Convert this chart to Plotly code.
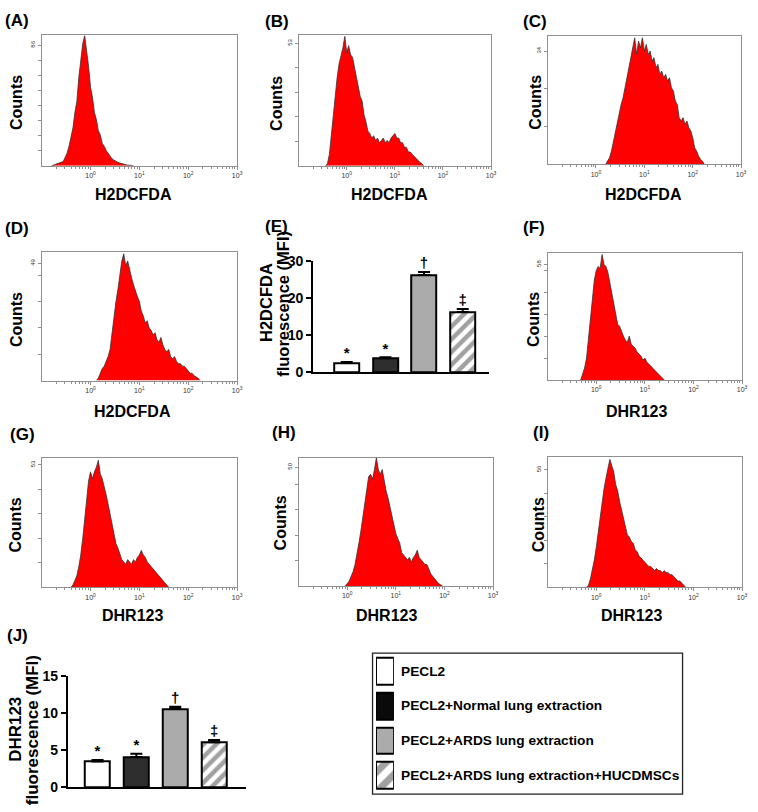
import plotly.graph_objects as go

W, H = 758, 812
FONT = "Arial, 'Liberation Sans', Helvetica, sans-serif"

# ---------------- DATA ----------------
LOG_STEP = 0.04  # channel width in log10 units

A_start = -0.80
A_counts = [0, 0.5, 1, 1, 2, 2, 3, 6, 9, 14, 20, 27, 38, 46, 63, 74, 87, 93, 83, 71, 56, 49, 38, 33, 25, 22,
            16, 14, 11, 9, 7, 5, 4, 3, 2.5, 2, 1.5, 1, 1, 0.5, 0.5, 0, 0]
B_start = -0.44
B_counts = [0, 1, 5, 14, 22, 31, 38, 44, 47, 51, 56, 49, 52, 48, 47, 43, 38, 35, 30, 28, 22, 19, 15, 14, 12, 13,
            11, 12, 10, 11, 12, 10, 11, 10, 12, 13, 14, 12, 12, 10, 10, 8, 8, 6, 6, 5, 4, 3, 2, 1.5, 1, 0]
C_start = 0.20
C_counts = [0, 1, 2, 4, 7, 10, 13, 16, 18, 20, 23, 25, 28, 31, 35, 38, 33, 37, 35, 38, 34, 36, 33, 34, 31, 32,
            29, 30, 27, 28, 26, 27, 25, 26, 23, 22, 19, 18, 14, 13, 14, 12, 13, 11, 10, 8, 5, 4, 2.5, 1.5, 1, 0]
D_start = 0.12
D_counts = [0, 1, 3, 5, 6, 8, 10, 13, 20, 28, 33, 38, 44, 50, 53, 48, 50, 46, 43, 40, 37, 35, 33, 29, 27, 24,
            25, 22, 21, 19, 20, 17, 16, 18, 15, 13, 12, 13, 10, 9, 10, 8, 7, 7, 6, 6, 5, 4, 3, 3, 2, 1.5, 1, 0]
F_start = -0.32
F_counts = [0, 3, 6, 11, 21, 32, 42, 50, 55, 57, 56, 63, 58, 57, 54, 49, 43, 37, 32, 28, 27, 24, 22, 20, 19, 22,
            18, 17, 16, 14, 13, 12, 10, 11, 9, 8, 7, 6, 5, 4, 3, 2, 1, 0]
G_start = -0.40
G_counts = [0, 1, 3, 5, 9, 14, 21, 30, 38, 46, 50, 47, 50, 52, 55, 49, 47, 44, 40, 36, 32, 28, 23, 19, 17, 14,
            12, 11, 10, 12, 11, 10, 12, 11, 13, 14, 16, 14, 13, 11, 10, 9, 8, 7, 6, 5, 4, 3, 2, 1, 0]
H_start = -0.04
H_counts = [0, 1, 2, 4, 6, 9, 13, 18, 23, 29, 36, 42, 46, 47, 45, 49, 54, 49, 47, 49, 44, 40, 37, 33, 29, 25,
            22, 20, 18, 14, 13, 12, 11, 12, 10, 12, 13, 15, 12, 11, 10, 9, 9, 7, 5, 4, 3, 2, 1, 0.5, 0]
I_start = -0.20
I_counts = [0, 1, 4, 8, 13, 19, 26, 33, 41, 47, 52, 56, 61, 58, 55, 49, 46, 41, 37, 33, 28, 25, 24, 22, 21, 18,
            17, 15, 14, 13, 12, 11, 10, 10, 9, 8, 9, 8, 8, 7, 8, 7, 7, 6, 6, 5, 4, 3, 3, 2, 1, 0]

# y-axis: labelled top count and tick spacing, axis maximum
y_label = {"A": 86, "B": 53, "C": 34, "D": 49, "F": 58, "G": 53, "H": 50, "I": 56}
y_step = {"A": 10.75, "B": 10.6, "C": 11.33, "D": 11, "F": 11, "G": 10.6, "H": 10.7, "I": 11.2}
y_max = {"A": 93, "B": 56.4, "C": 38.4, "D": 53.7, "F": 63.7, "G": 56, "H": 53.9, "I": 61.9}

x_tick_vals = [1, 10, 100, 1000]
x_tick_text = ["10<sup>0</sup>", "10<sup>1</sup>", "10<sup>2</sup>", "10<sup>3</sup>"]
x_minor_vals = [m * d for d in (0.1, 1, 10, 100) for m in range(2, 10)]

groups = ["PECL2", "PECL2+Normal lung extraction", "PECL2+ARDS lung extraction",
          "PECL2+ARDS lung extraction+HUCDMSCs"]
h2dcfda_mfi = [2.5, 3.8, 26.3, 16.3]
h2dcfda_sem = [0.3, 0.25, 0.8, 0.8]
h2dcfda_ticks = [0, 10, 20, 30]
dhr123_mfi = [3.5, 4.1, 10.6, 6.1]
dhr123_sem = [0.2, 0.45, 0.3, 0.3]
dhr123_ticks = [0, 5, 10, 15]
sig_marks = ["*", "*", "\u2020", "\u2021"]

# ---------------- STYLE / LAYOUT ----------------
bar_fill = ["#ffffff", "#2e2e2e", "#ababab", "#ffffff"]
legend_fill = ["#ffffff", "#0a0a0a", "#ababab", "#ffffff"]
bar_pattern = ["", "", "", "/"]
HIST_RED = "#ff0000"
FRAME = "#8f8f8f"


def px(x):
    return x / W


def py(y):
    return 1 - y / H


# panel boxes in pixels: x0, x1, ytop, ybottom
hist_panels = [
    ("A", A_start, A_counts, (42, 239, 28, 161)),
    ("B", B_start, B_counts, (301, 495, 28, 161)),
    ("C", C_start, C_counts, (552, 747, 29, 159.5)),
    ("D", D_start, D_counts, (42, 239, 249, 380)),
    ("F", F_start, F_counts, (552, 748, 250, 379.5)),
    ("G", G_start, G_counts, (42, 239, 459, 591)),
    ("H", H_start, H_counts, (301, 497, 459, 589.5)),
    ("I", I_start, I_counts, (552, 748, 458.5, 591)),
]

fig = go.Figure()
layout = dict(width=W, height=H, margin=dict(l=0, r=0, t=0, b=0), paper_bgcolor="white",
              plot_bgcolor="rgba(0,0,0,0)", showlegend=False, font=dict(family=FONT, color="black"))
annotations = []
shapes = []


def axname(n, letter):
    return f"{letter}axis" if n == 1 else f"{letter}axis{n}"


def axref(n, letter):
    return letter if n == 1 else f"{letter}{n}"


for n, (key, start, counts, box) in enumerate(hist_panels, start=1):
    x0, x1, yt, yb = box
    xs = [10 ** (start + k * LOG_STEP) for k in range(len(counts))]
    fig.add_trace(go.Scatter(x=xs, y=counts, mode="lines", fill="tozeroy", fillcolor=HIST_RED,
                             line=dict(color="#333333", width=0.8), xaxis=axref(n, "x"),
                             yaxis=axref(n, "y"), hoverinfo="skip"))
    minor_y = []
    k = 1
    while y_step[key] * k < y_label[key] - 0.6:
        minor_y.append(y_step[key] * k)
        k += 1
    layout[axname(n, "x")] = dict(
        type="log", range=[-1, 3], domain=[px(x0), px(x1)], anchor=axref(n, "y"),
        showline=True, mirror=True, linecolor=FRAME, linewidth=1, showgrid=False, zeroline=False,
        ticks="outside", ticklen=3, tickcolor=FRAME, tickwidth=1,
        tickmode="array", tickvals=x_tick_vals, ticktext=x_tick_text,
        tickfont=dict(size=7, color="#333333", family=FONT),
        minor=dict(tickmode="array", tickvals=x_minor_vals, ticks="outside", ticklen=2,
                   tickcolor=FRAME, tickwidth=1, showgrid=False),
        fixedrange=True)
    layout[axname(n, "y")] = dict(
        range=[0, y_max[key]], domain=[py(yb), py(yt)], anchor=axref(n, "x"),
        showline=True, mirror=True, linecolor=FRAME, linewidth=1, showgrid=False, zeroline=False,
        ticks="outside", ticklen=3, tickcolor=FRAME, tickwidth=1,
        tickmode="array", tickvals=[y_label[key]], ticktext=[str(y_label[key])], tickangle=-90,
        tickfont=dict(size=6, color="#333333", family=FONT),
        minor=dict(tickmode="array", tickvals=minor_y, ticks="outside", ticklen=3,
                   tickcolor=FRAME, tickwidth=1, showgrid=False),
        fixedrange=True)

# ---------------- bar charts ----------------
bar_specs = [
    (9, h2dcfda_mfi, h2dcfda_sem, h2dcfda_ticks, (315.7, 493.3, 258.3, 371.7), [-0.867, 3.69]),
    (10, dhr123_mfi, dhr123_sem, dhr123_ticks, (68.3, 248.3, 681.7, 795), [-0.765, 3.83]),
]
for n, means, sems, yticks, box, xr in bar_specs:
    x0, x1, yt, yb = box
    xs = list(range(len(groups)))
    fig.add_trace(go.Bar(
        x=xs, y=means, width=0.64, name="", hovertext=groups,
        marker=dict(color=bar_fill, line=dict(color="black", width=2),
                    pattern=dict(shape=bar_pattern, fgcolor="black", size=9, solidity=0.5,
                                 fillmode="overlay")),
        error_y=dict(type="data", symmetric=False, array=sems, arrayminus=[0] * len(sems),
                     color="black", thickness=2, width=6),
        xaxis=axref(n, "x"), yaxis=axref(n, "y")))
    fig.add_trace(go.Scatter(
        x=xs, y=[m + s for m, s in zip(means, sems)], mode="text",
        text=[f"<b>{s}</b>" for s in sig_marks],
        textposition="top center", textfont=dict(size=15, color="black", family=FONT),
        cliponaxis=False, hoverinfo="skip", xaxis=axref(n, "x"), yaxis=axref(n, "y")))
    layout[axname(n, "x")] = dict(
        range=xr, domain=[px(x0), px(x1)], anchor=axref(n, "y"), showline=True, linecolor="black",
        linewidth=2, showgrid=False, zeroline=False, showticklabels=False, ticks="", fixedrange=True)
    layout[axname(n, "y")] = dict(
        range=[0, yticks[-1]], domain=[py(yb), py(yt)], anchor=axref(n, "x"), showline=True,
        linecolor="black", linewidth=2, showgrid=False, zeroline=False, ticks="outside", ticklen=5,
        tickwidth=2, tickcolor="black", tickmode="array", tickvals=yticks,
        ticktext=[f"<b>{v}</b>" for v in yticks], showticklabels=True,
        tickfont=dict(size=14, color="black", family=FONT), fixedrange=True)

# ---------------- legend (key swatches drawn as bars) ----------------
LN = 11
fig.add_trace(go.Bar(
    y=list(range(len(groups))), x=[1] * len(groups), orientation="h", width=0.775,
    marker=dict(color=legend_fill, line=dict(color="black", width=2),
                pattern=dict(shape=bar_pattern, fgcolor="black", size=14, solidity=0.5, fillmode="overlay")),
    hovertext=groups, xaxis=axref(LN, "x"), yaxis=axref(LN, "y")))
layout[axname(LN, "x")] = dict(range=[0, 1], domain=[px(379), px(397)], anchor=axref(LN, "y"),
                               visible=False, fixedrange=True)
layout[axname(LN, "y")] = dict(range=[3.5, -0.5], domain=[py(800.7), py(658.7)], anchor=axref(LN, "x"),
                               visible=False, fixedrange=True)
for i, g in enumerate(groups):
    annotations.append(dict(xref=axref(LN, "x"), yref=axref(LN, "y"), x=1, y=i, xanchor="left",
                            yanchor="middle", xshift=5, showarrow=False, text=f"<b>{g}</b>",
                            font=dict(size=13.7, color="black", family=FONT)))
shapes.append(dict(type="rect", xref="paper", yref="paper", x0=px(375.5), x1=px(688), y0=py(802),
                   y1=py(658), line=dict(color="#222222", width=1.3), fillcolor="rgba(0,0,0,0)",
                   layer="below"))


# ---------------- text annotations ----------------
def text_ann(x, y, txt, size, angle=0, xanchor="center"):
    annotations.append(dict(xref="paper", yref="paper", x=px(x), y=py(y), text=f"<b>{txt}</b>",
                            showarrow=False, textangle=angle, xanchor=xanchor, yanchor="middle",
                            font=dict(size=size, color="black", family=FONT)))


panel_labels = [("(A)", 3, 13), ("(B)", 265, 14), ("(C)", 525, 14), ("(D)", 3, 225),
                ("(E)", 265, 222.5), ("(F)", 525, 223.5), ("(G)", 8, 435), ("(H)", 272, 433),
                ("(I)", 535, 433.5), ("(J)", 5, 640)]
for t, x, y in panel_labels:
    text_ann(x, y, t, 17, xanchor="left")

counts_pos = [(16, 96), (278, 97), (539, 96), (16, 317.5), (538, 317.5), (16, 527), (283, 525), (543, 527)]
for x, y in counts_pos:
    text_ann(x, y, "Counts", 16, angle=-90)

xtitles = [("H2DCFDA", 135, 190), ("H2DCFDA", 392.5, 190), ("H2DCFDA", 649, 190),
           ("H2DCFDA", 134, 411.7), ("DHR123", 641.7, 411.5),
           ("DHR123", 133.3, 620), ("DHR123", 390, 620), ("DHR123", 637, 620)]
for t, x, y in xtitles:
    text_ann(x, y, t, 16)

# bar chart y titles
text_ann(268, 300, "H2DCFDA", 16.5, angle=-90)
text_ann(285, 302, "fluorescence (MFI)", 16.5, angle=-90)
text_ann(15.5, 736, "DHR123", 17, angle=-90)
text_ann(33, 737, "fluorescence (MFI)", 17, angle=-90)

layout["annotations"] = annotations
layout["shapes"] = shapes
layout["bargap"] = 0
fig.update_layout(**layout)

fig.write_html("out.html", config={"displayModeBar": False},
               post_script="document.body.style.margin='0px';")
